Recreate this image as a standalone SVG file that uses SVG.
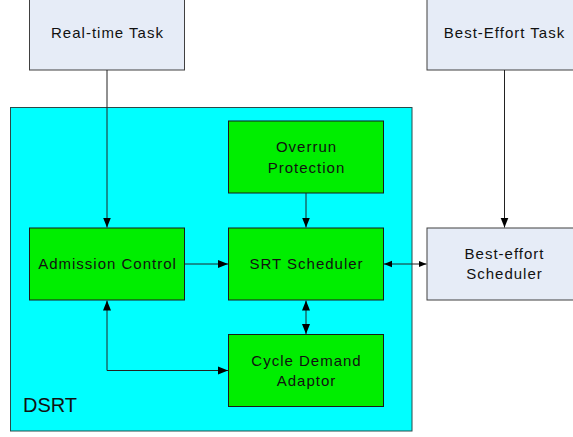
<svg xmlns="http://www.w3.org/2000/svg" width="573" height="437" viewBox="0 0 573 437">
<style>
.lt{fill:#e6ecf7;stroke:#404040;stroke-width:1}
.gr{fill:#00ee00;stroke:#1a1a1a;stroke-width:1}
.t{font-family:"Liberation Sans",Arial,sans-serif;font-size:15px;letter-spacing:1px;fill:#111;text-anchor:middle}
.c{fill:none;stroke:#222;stroke-width:1}
</style>
<defs>
<marker id="ah" viewBox="0 0 10 10" refX="10" refY="5" markerWidth="10" markerHeight="10" markerUnits="userSpaceOnUse" orient="auto-start-reverse"><path d="M0,1 L10,5 L0,9 Z" fill="#000"/></marker>
<marker id="as" viewBox="0 0 10 10" refX="10" refY="5" markerWidth="8" markerHeight="8" markerUnits="userSpaceOnUse" orient="auto-start-reverse"><path d="M0,1 L10,5 L0,9 Z" fill="#000"/></marker>
</defs>
<g id="dsrt">
<rect x="10.5" y="107.5" width="401.5" height="323.5" fill="#00ffff" stroke="#2a4a4a" stroke-width="1"/>
<text x="23" y="412" font-family="'Liberation Sans',Arial,sans-serif" font-size="20px" fill="#111">DSRT</text>
</g>
<g id="realtime-task">
<rect class="lt" x="29.5" y="-1" width="155" height="71"/>
<text class="t" x="107.5" y="38">Real-time Task</text>
</g>
<g id="besteffort-task">
<rect class="lt" x="427" y="-1" width="150" height="71"/>
<text class="t" x="504.5" y="38">Best-Effort Task</text>
</g>
<g id="admission">
<rect class="gr" x="29.5" y="228" width="155" height="72"/>
<text class="t" x="107.5" y="269">Admission Control</text>
</g>
<g id="overrun">
<rect class="gr" x="228.5" y="121" width="155" height="72"/>
<text class="t" x="306.5" y="152">Overrun</text>
<text class="t" x="306.5" y="172.5">Protection</text>
</g>
<g id="srt">
<rect class="gr" x="228.5" y="228" width="155" height="72"/>
<text class="t" x="306.5" y="269">SRT Scheduler</text>
</g>
<g id="cycle">
<rect class="gr" x="228.5" y="334.5" width="155" height="72"/>
<text class="t" x="306.5" y="365.5">Cycle Demand</text>
<text class="t" x="306.5" y="385.5">Adaptor</text>
</g>
<g id="besteffort-scheduler">
<rect class="lt" x="427" y="228" width="150" height="72"/>
<text class="t" x="504.5" y="259">Best-effort</text>
<text class="t" x="504.5" y="279">Scheduler</text>
</g>
<g id="connectors">
<path class="c" d="M107,70 V227.5" marker-end="url(#ah)"/>
<path class="c" d="M504.5,70 V227.5" marker-end="url(#ah)"/>
<path class="c" d="M306,193 V227.5" marker-end="url(#ah)"/>
<path class="c" d="M184.5,264 H228" marker-end="url(#ah)"/>
<path class="c" d="M384,264 H426.5" marker-start="url(#as)" marker-end="url(#as)"/>
<path class="c" d="M306,300.5 V334" marker-start="url(#ah)" marker-end="url(#ah)"/>
<path class="c" d="M107,300.5 V370.5 H228" marker-start="url(#ah)" marker-end="url(#ah)"/>
</g>
</svg>
